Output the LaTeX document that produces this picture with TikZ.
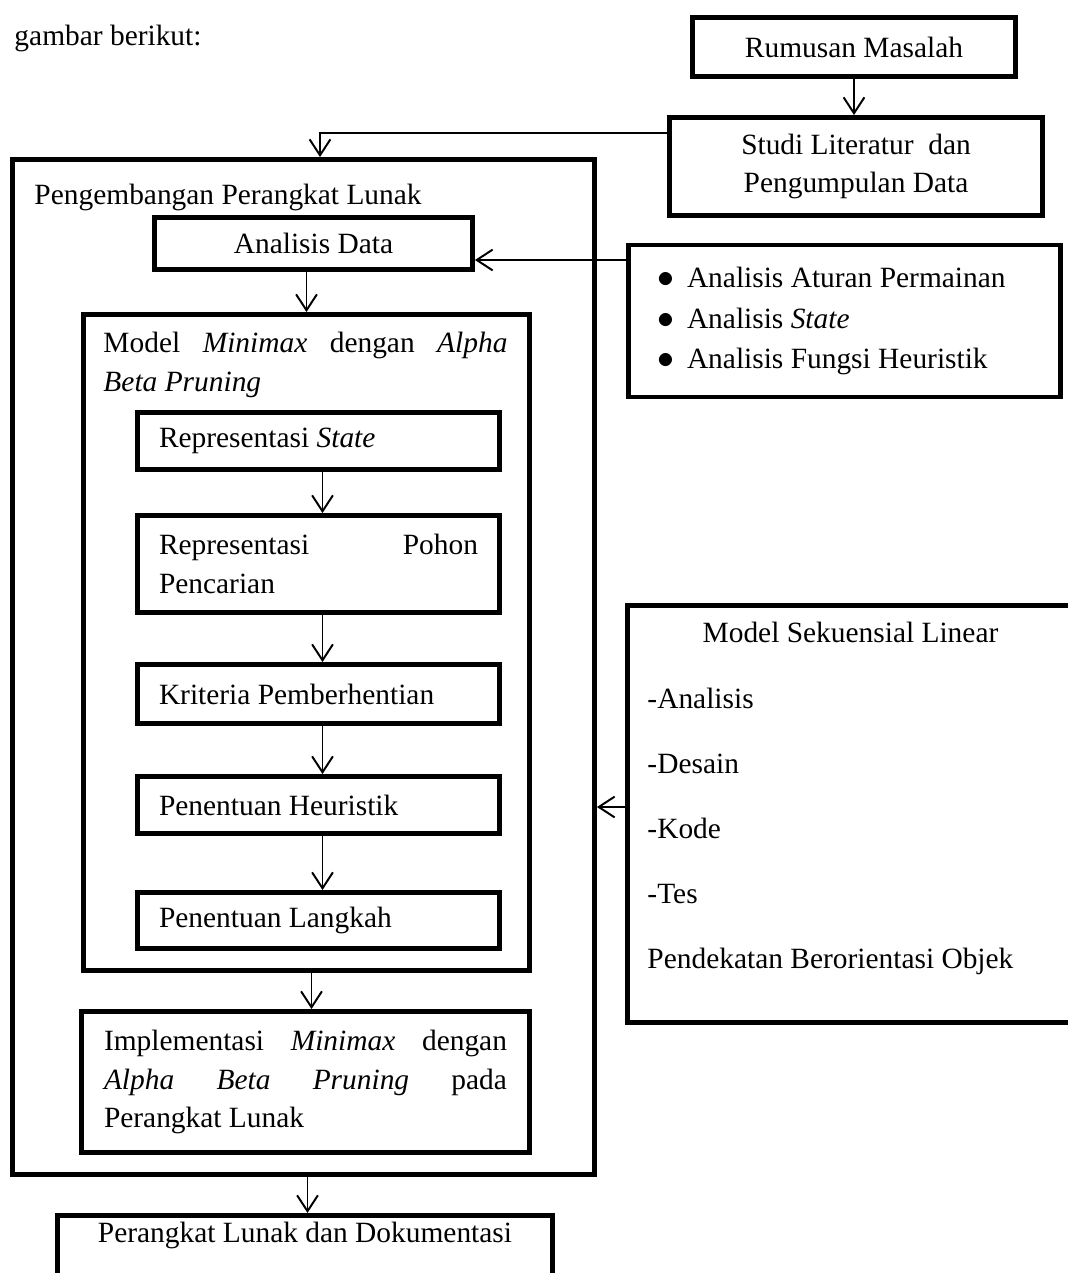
\documentclass[tikz,border=0pt]{standalone}
\usepackage{fontspec}
\setmainfont{Liberation Serif}
\usetikzlibrary{arrows.meta}
\newlength{\px}
\setlength{\px}{0.408pt}

\begin{document}
\begin{tikzpicture}[x=0.408pt, y=-0.408pt,
    font=\fontsize{12pt}{15.7pt}\selectfont,
    box/.style={draw, line width=2pt, inner sep=0pt, align=center},
    stage/.style={box, minimum width=362\px, text width=319\px, inner xsep=21.5\px, align=flush left},
    conn/.style={line width=0.8pt, -{Straight Barb[length=6.5pt,width=8.5pt]}}]
  \useasboundingbox (0,0) rectangle (1068,1273);

  \node[anchor=base west, inner sep=0pt] (intro) at (14,45) {gambar berikut:};

  % kanan atas
  \node[box, minimum width=323\px, minimum height=59\px] (rumusan) at (854,47) {Rumusan Masalah};
  \node[box, minimum width=373\px, minimum height=98\px] (studi) at (856,166.5) {Studi Literatur~ dan\\Pengumpulan Data};

  % pengembangan perangkat lunak
  \node[box, minimum width=582\px, minimum height=1015\px] (dev) at (303.5,667) {};
  \node[anchor=base west, inner sep=0pt] (devtitle) at (34,204) {Pengembangan Perangkat Lunak};
  \node[box, minimum width=432\px, minimum height=152\px, text width=375\px, inner xsep=28.5\px, align=flush left,
        font=\fontsize{12pt}{16.5pt}\selectfont] (list) at (844.5,321)
    {\makebox[30\px][l]{\scalebox{1.15}{$\bullet$}}Analisis Aturan Permainan\\
     \makebox[30\px][l]{\scalebox{1.15}{$\bullet$}}Analisis \textit{State}\\
     \makebox[30\px][l]{\scalebox{1.15}{$\bullet$}}Analisis Fungsi Heuristik};
  \node[box, minimum width=318\px, minimum height=52\px] (ana) at (313.5,243.5) {Analisis Data};

  % model minimax
  \node[box, minimum width=446\px, minimum height=656\px] (model) at (306.5,642.5) {};
  \node[anchor=north west, inner sep=0pt, text width=404\px, align=flush left] (modeltitle) at (103,332)
    {Model\hfill\textit{Minimax}\hfill dengan\hfill\textit{Alpha}\\\textit{Beta Pruning}};
  \node[stage, minimum height=57\px] (rstate) at (318.5,441) {Representasi \textit{State}};
  \node[stage, minimum height=97\px] (rpohon) at (318.5,564) {Representasi\hfill Pohon\\Pencarian};
  \node[stage, minimum height=59\px] (krit) at (318.5,694) {Kriteria Pemberhentian};
  \node[stage, minimum height=57\px] (heur) at (318.5,805) {Penentuan Heuristik};
  \node[stage, minimum height=56\px] (lang) at (318.5,920.5) {Penentuan Langkah};

  \node[box, minimum width=448\px, minimum height=141\px, text width=403\px, inner xsep=22.5\px, align=flush left] (impl) at (305.5,1082)
    {Implementasi\hfill\textit{Minimax}\hfill dengan\\\textit{Alpha}\hfill\textit{Beta}\hfill\textit{Pruning}\hfill pada\\Perangkat Lunak};

  % hasil akhir
  \node[box, anchor=north, minimum width=495\px, text height=27.5\px, text depth=70\px] (out) at (305,1213)
    {Perangkat Lunak dan Dokumentasi};

  % model sekuensial linear
  \node[box, minimum width=470\px, minimum height=417\px] (seq) at (862.5,814) {};
  \node[anchor=north west, inner sep=0pt, text width=406\px, align=flush left,
        font=\fontsize{12pt}{26.6pt}\selectfont] (seqtext) at (647,622)
    {\hfill Model Sekuensial Linear\hfill\null\\
     -Analisis\\-Desain\\-Kode\\-Tes\\Pendekatan Berorientasi Objek};

  % panah
  \coordinate (bend) at (320,133);
  \coordinate (listin) at (626,260);
  \coordinate (seqin) at (625,807);
  \draw[conn] (rumusan.south) -- (rumusan.south |- studi.north);
  \draw[conn] (studi.west |- bend) -- (bend) -- (bend |- dev.north);
  \draw[conn] (list.west |- listin) -- (ana.east |- listin);
  \draw[conn] (ana.south -| model.north) -- (model.north);
  \foreach \a/\b in {rstate/rpohon, rpohon/krit, krit/heur, heur/lang}
    \draw[conn] ([xshift=4\px]\a.south) -- ([xshift=4\px]\b.north);
  \draw[conn] ([xshift=5\px]model.south) -- ([xshift=5\px]model.south |- impl.north);
  \draw[conn] ([xshift=4\px]dev.south) -- ([xshift=4\px]dev.south |- out.north);
  \draw[conn] (seq.west |- seqin) -- (dev.east |- seqin);

\end{tikzpicture}
\end{document}
